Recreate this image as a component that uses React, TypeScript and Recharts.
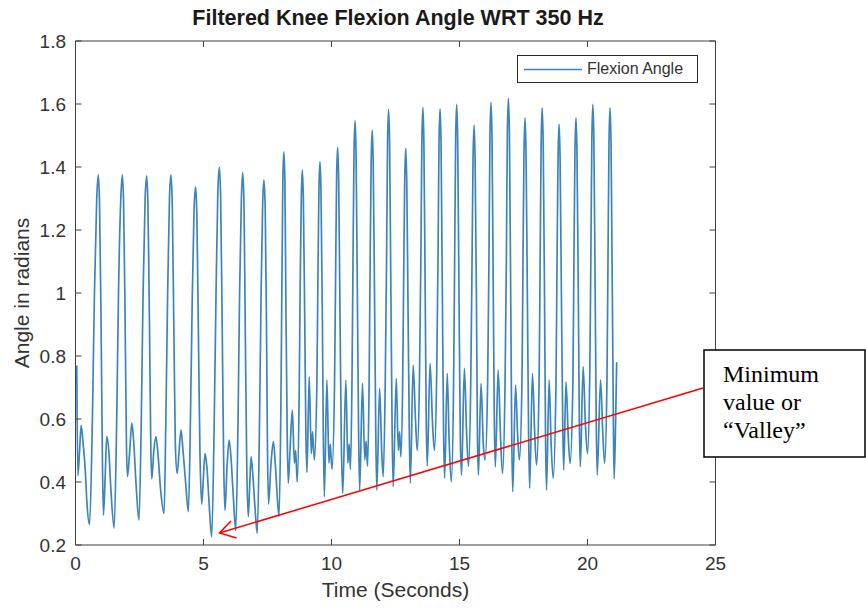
import React from 'react';
import { LineChart, Line, XAxis, YAxis, Legend, Label } from 'recharts';

// ---------- data ----------
const timeSec = [
  0.05, 0.09, 0.16, 0.22, 0.30, 0.38, 0.45, 0.55,
  0.66, 0.74, 0.83, 0.89, 0.94, 1.00, 1.05, 1.09, 1.16, 1.22, 1.30, 1.38, 1.51,
  1.61, 1.68, 1.77, 1.83, 1.88, 1.94, 1.99, 2.03, 2.12, 2.20, 2.28, 2.36, 2.48,
  2.57, 2.64, 2.72, 2.78, 2.83, 2.89, 2.94, 2.98, 3.06, 3.14, 3.22, 3.32, 3.46,
  3.53, 3.60, 3.67, 3.73, 3.78, 3.84, 3.90, 3.97, 4.05, 4.12, 4.20, 4.30, 4.41,
  4.49, 4.56, 4.63, 4.69, 4.74, 4.80, 4.86, 4.93, 5.00, 5.06, 5.14, 5.22, 5.32,
  5.42, 5.49, 5.56, 5.62, 5.67, 5.73, 5.79, 5.84, 5.92, 6.00, 6.08, 6.16, 6.26,
  6.35, 6.41, 6.48, 6.53, 6.58, 6.63, 6.69, 6.75, 6.81, 6.86, 6.93, 7.01, 7.10,
  7.19, 7.25, 7.31, 7.36, 7.41, 7.46, 7.50, 7.54, 7.63, 7.73, 7.81, 7.95,
  8.02, 8.06, 8.10, 8.14, 8.18, 8.22, 8.27, 8.31, 8.39, 8.47, 8.55, 8.60, 8.66,
  8.74, 8.78, 8.82, 8.86, 8.90, 8.95, 9.00, 9.04, 9.13, 9.21, 9.26, 9.33,
  9.43, 9.47, 9.51, 9.55, 9.59, 9.64, 9.68, 9.72, 9.82, 9.90, 9.95, 10.02,
  10.12, 10.16, 10.20, 10.24, 10.28, 10.33, 10.38, 10.44, 10.56, 10.64, 10.69, 10.74,
  10.80, 10.84, 10.88, 10.92, 10.96, 11.01, 11.06, 11.10, 11.21, 11.30, 11.35, 11.41,
  11.47, 11.51, 11.55, 11.59, 11.63, 11.68, 11.73, 11.77, 11.88, 11.96, 12.02,
  12.10, 12.15, 12.19, 12.23, 12.27, 12.32, 12.37, 12.41, 12.53, 12.61, 12.66, 12.71,
  12.78, 12.82, 12.86, 12.90, 12.94, 12.99, 13.04, 13.08, 13.19, 13.28, 13.35,
  13.44, 13.49, 13.53, 13.57, 13.61, 13.66, 13.70, 13.74, 13.85, 13.95, 14.02,
  14.11, 14.16, 14.20, 14.24, 14.28, 14.33, 14.38, 14.42, 14.52, 14.60, 14.68,
  14.77, 14.81, 14.85, 14.89, 14.93, 14.98, 15.03, 15.08, 15.19, 15.28, 15.35,
  15.44, 15.49, 15.53, 15.57, 15.61, 15.66, 15.70, 15.74, 15.84, 15.93, 16.00,
  16.10, 16.15, 16.19, 16.23, 16.27, 16.32, 16.36, 16.40, 16.51, 16.60, 16.68,
  16.78, 16.83, 16.87, 16.91, 16.95, 17.00, 17.04, 17.08, 17.19, 17.27, 17.34,
  17.44, 17.48, 17.52, 17.56, 17.60, 17.65, 17.70, 17.74, 17.85, 17.94, 18.01,
  18.11, 18.15, 18.19, 18.23, 18.27, 18.32, 18.36, 18.40, 18.50, 18.58, 18.66,
  18.77, 18.81, 18.85, 18.89, 18.93, 18.98, 19.03, 19.07, 19.16, 19.25, 19.32,
  19.43, 19.47, 19.51, 19.55, 19.59, 19.64, 19.68, 19.72, 19.83, 19.92, 20.00,
  20.09, 20.13, 20.17, 20.21, 20.25, 20.30, 20.34, 20.38, 20.51, 20.60, 20.67,
  20.76, 20.80, 20.84, 20.88, 20.92, 20.97, 21.01, 21.04, 21.10, 21.14,
];

const angleRad = [
  0.77, 0.42, 0.50, 0.58, 0.52, 0.44, 0.33, 0.265,
  0.60, 1.00, 1.30, 1.375, 1.28, 0.90, 0.48, 0.295, 0.42, 0.544, 0.50, 0.38, 0.254,
  0.60, 1.00, 1.30, 1.375, 1.28, 0.90, 0.52, 0.417, 0.50, 0.587, 0.52, 0.40, 0.279,
  0.60, 1.00, 1.30, 1.371, 1.28, 0.90, 0.52, 0.41, 0.50, 0.544, 0.49, 0.38, 0.30,
  0.60, 1.00, 1.30, 1.375, 1.28, 0.90, 0.52, 0.427, 0.50, 0.565, 0.50, 0.40, 0.306,
  0.60, 0.98, 1.26, 1.337, 1.25, 0.88, 0.50, 0.33, 0.42, 0.49, 0.44, 0.33, 0.226,
  0.60, 1.00, 1.32, 1.399, 1.30, 0.90, 0.45, 0.31, 0.45, 0.533, 0.47, 0.36, 0.247,
  0.60, 1.00, 1.30, 1.382, 1.29, 0.90, 0.45, 0.29, 0.40, 0.48, 0.42, 0.32, 0.237,
  0.60, 1.00, 1.28, 1.359, 1.27, 0.90, 0.50, 0.33, 0.45, 0.528, 0.45, 0.29,
  0.62, 1.00, 1.36, 1.448, 1.35, 0.95, 0.55, 0.396, 0.52, 0.628, 0.46, 0.50, 0.40,
  0.70, 1.05, 1.30, 1.39, 1.30, 0.95, 0.55, 0.43, 0.734, 0.49, 0.56, 0.47,
  0.72, 1.05, 1.33, 1.417, 1.32, 0.95, 0.55, 0.353, 0.724, 0.46, 0.52, 0.44,
  0.72, 1.05, 1.37, 1.462, 1.36, 0.95, 0.55, 0.364, 0.724, 0.46, 0.52, 0.44,
  0.72, 1.10, 1.45, 1.547, 1.44, 1.00, 0.55, 0.374, 0.713, 0.47, 0.53, 0.45,
  0.72, 1.10, 1.42, 1.517, 1.41, 1.00, 0.55, 0.374, 0.697, 0.50, 0.417,
  0.72, 1.10, 1.48, 1.583, 1.47, 1.00, 0.55, 0.385, 0.729, 0.50, 0.56, 0.48,
  0.72, 1.05, 1.36, 1.459, 1.35, 0.95, 0.55, 0.396, 0.771, 0.60, 0.50,
  0.75, 1.10, 1.48, 1.589, 1.47, 1.00, 0.60, 0.45, 0.777, 0.58, 0.50,
  0.75, 1.10, 1.48, 1.585, 1.47, 1.00, 0.55, 0.412, 0.745, 0.52, 0.40,
  0.72, 1.10, 1.49, 1.599, 1.48, 1.00, 0.55, 0.422, 0.761, 0.55, 0.45,
  0.72, 1.10, 1.43, 1.533, 1.42, 1.00, 0.55, 0.422, 0.713, 0.52, 0.47,
  0.72, 1.10, 1.50, 1.605, 1.49, 1.00, 0.60, 0.448, 0.755, 0.55, 0.427,
  0.72, 1.10, 1.51, 1.618, 1.50, 1.00, 0.55, 0.369, 0.708, 0.55, 0.47,
  0.72, 1.10, 1.45, 1.556, 1.44, 1.00, 0.55, 0.38, 0.745, 0.55, 0.454,
  0.72, 1.10, 1.48, 1.588, 1.47, 1.00, 0.55, 0.374, 0.724, 0.52, 0.412,
  0.72, 1.10, 1.43, 1.536, 1.42, 1.00, 0.60, 0.438, 0.718, 0.54, 0.459,
  0.72, 1.10, 1.45, 1.556, 1.44, 1.00, 0.60, 0.448, 0.766, 0.58, 0.49,
  0.75, 1.10, 1.49, 1.599, 1.48, 1.00, 0.60, 0.422, 0.724, 0.55, 0.459,
  0.72, 1.10, 1.48, 1.588, 1.47, 1.00, 0.60, 0.41, 0.60, 0.78,
];

const xTicks = [0, 5, 10, 15, 20, 25];
const yTicks = [0.2, 0.4, 0.6, 0.8, 1.0, 1.2, 1.4, 1.6, 1.8];
const seriesName = 'Flexion Angle';
const chartTitle = 'Filtered Knee Flexion Angle WRT 350 Hz';
const xLabel = 'Time (Seconds)';
const yLabel = 'Angle in radians';
const noteLines = ['Minimum', 'value or', '\u201CValley\u201D'];

// ---------- styles ----------
const W = 866;
const H = 610;
const SANS = '"Liberation Sans", Arial, Helvetica, sans-serif';
const SERIF = '"Liberation Serif", "Times New Roman", serif';
const AXIS = '#404040';
const TXT = '#333333';
const LINE = '#3d85b8';
const blank = () => '';

const LegendBox = (props: any) => {
  const item = (props.payload && props.payload.find((p: any) => p.value === seriesName)) || { value: seriesName, color: LINE };
  return (
    <div
      style={{
        width: 181,
        height: 28,
        boxSizing: 'border-box',
        border: '1.5px solid #2a2a2a',
        background: '#fff',
        position: 'relative',
      }}
    >
      <svg width={70} height={26} style={{ position: 'absolute', left: 0, top: 0 }}>
        <line x1={6} x2={64} y1={13.5} y2={13.5} stroke={item.color || LINE} strokeWidth={1.7} />
      </svg>
      <span
        style={{
          position: 'absolute',
          left: 69,
          top: 3,
          fontFamily: SANS,
          fontSize: 16,
          color: TXT,
          whiteSpace: 'nowrap',
          lineHeight: '20px',
        }}
      >
        {item.value}
      </span>
    </div>
  );
};

export default function App() {
  const data = timeSec.map((t, i) => ({ t, angle: angleRad[i] }));
  const tickStyle = { fill: TXT, fontSize: 19, fontFamily: SANS };
  return (
    <div style={{ position: 'absolute', left: 0, top: 0, width: W, height: H, background: '#fff' }}>
      <LineChart width={W} height={H} data={data} margin={{ top: 40, right: 149.5, bottom: 10, left: 0 }}>
        <XAxis
          dataKey="t"
          type="number"
          domain={[0, 25]}
          ticks={xTicks}
          interval={0}
          stroke={AXIS}
          tickSize={-6}
          tickMargin={18}
          height={55}
          tick={tickStyle}
        >
          <Label value={xLabel} position="insideBottom" offset={3} style={{ fill: TXT, fontSize: 21, fontFamily: SANS }} />
        </XAxis>
        <XAxis
          xAxisId="top"
          dataKey="t"
          orientation="top"
          type="number"
          domain={[0, 25]}
          ticks={xTicks}
          interval={0}
          height={1}
          stroke={AXIS}
          tickSize={-6}
          tickFormatter={blank}
        />
        <YAxis
          type="number"
          domain={[0.2, 1.8]}
          ticks={yTicks}
          interval={0}
          width={75.5}
          stroke={AXIS}
          tickSize={-6}
          tickMargin={15.5}
          tick={tickStyle}
        >
          <Label
            value={yLabel}
            angle={-90}
            position="insideLeft"
            offset={22}
            style={{ textAnchor: 'middle', fill: TXT, fontSize: 21, fontFamily: SANS }}
          />
        </YAxis>
        <YAxis
          yAxisId="right"
          orientation="right"
          type="number"
          domain={[0.2, 1.8]}
          ticks={yTicks}
          interval={0}
          width={1}
          stroke={AXIS}
          tickSize={-6}
          tickFormatter={blank}
        />
        <Legend
          layout="horizontal"
          verticalAlign="middle"
          align="center"
          wrapperStyle={{ position: 'absolute', left: 517, top: 55, width: 181, height: 28 }}
          content={(p: any) => <LegendBox payload={p.payload} />}
        />
        <Line
          dataKey="angle"
          name={seriesName}
          type="monotone"
          stroke={LINE}
          strokeWidth={1.7}
          dot={false}
          activeDot={false}
          isAnimationActive={false}
        />
        <Line
          xAxisId="top"
          yAxisId="right"
          dataKey="angle"
          name="frame"
          legendType="none"
          stroke="none"
          strokeWidth={0}
          dot={false}
          activeDot={false}
          isAnimationActive={false}
        />
      </LineChart>
      <svg
        width={W}
        height={H}
        style={{ position: 'absolute', left: 0, top: 0, pointerEvents: 'none' }}
      >
        <text x={398} y={25} textAnchor="middle" fontFamily={SANS} fontWeight="bold" fontSize={21.5} fill="#1a1a1a">
          {chartTitle}
        </text>
        <line x1={703} y1={388} x2={219.5} y2={533} stroke="#ff0000" strokeWidth={1.5} />
        <polyline points="231,521 219.5,533 236.5,538" fill="none" stroke="#ff0000" strokeWidth={1.5} />
        <rect x={704} y={350} width={161} height={107} fill="#fff" stroke="#000" strokeWidth={1.5} />
        {noteLines.map((s, i) => (
          <text key={i} x={723} y={382 + i * 28} fontFamily={SERIF} fontSize={24} fill="#000">
            {s}
          </text>
        ))}
      </svg>
    </div>
  );
}
